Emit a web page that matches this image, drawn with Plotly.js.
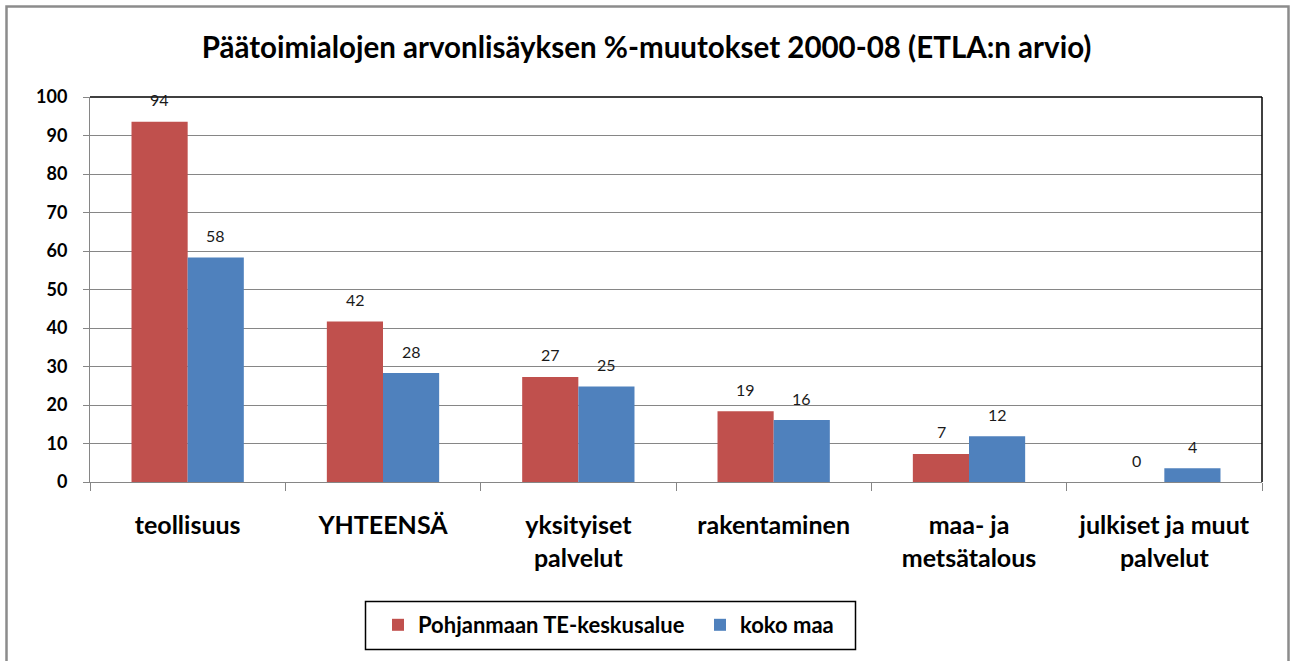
<!DOCTYPE html>
<html><head><meta charset="utf-8">
<script src="https://cdn.plot.ly/plotly-3.0.1.min.js"></script>
<style>html,body{margin:0;padding:0;background:#fff}#c{width:1293px;height:661px}</style>
</head><body><div id="c"></div>
<script>
const categories = ["teollisuus", "YHTEENSÄ", "yksityiset<br>palvelut", "rakentaminen", "maa- ja<br>metsätalous", "julkiset ja muut<br>palvelut"];
const regionValues = [93.6, 41.7, 27.3, 18.4, 7.3, 0];
const regionLabels = ["94", "42", "27", "19", "7", "0"];
const countryValues = [58.3, 28.3, 24.8, 16.1, 11.9, 3.6];
const countryLabels = ["58", "28", "25", "16", "12", "4"];
const seriesNames = ["Pohjanmaan TE-keskusalue", "koko maa"];
const yTicks = [0, 10, 20, 30, 40, 50, 60, 70, 80, 90, 100];

const W = 1293, H = 661, L = 90, R = 1262, T = 97, B = 482;
const pw = R - L, ph = B - T;
const px = x => (x - L) / pw;
const py = y => (B - y) / ph;
const FONT = "Lato, 'Open Sans', sans-serif";

const traces = [
  {type: "bar", name: "<b>" + seriesNames[0] + "</b>", x: categories, y: regionValues,
   marker: {color: "#C0504D"}, hoverinfo: "x+y"},
  {type: "bar", name: "<b>" + seriesNames[1] + "</b>", x: categories, y: countryValues,
   marker: {color: "#4F81BD"}, hoverinfo: "x+y"}
];

const barHalf = 28;
const annotations = [];
categories.forEach((c, i) => {
  annotations.push({x: c, y: regionValues[i], xref: "x", yref: "y", text: regionLabels[i],
    showarrow: false, xanchor: "center", yanchor: "middle", xshift: -barHalf, yshift: 22,
    font: {family: FONT, size: 16, color: "#1a1a1a"}});
  annotations.push({x: c, y: countryValues[i], xref: "x", yref: "y", text: countryLabels[i],
    showarrow: false, xanchor: "center", yanchor: "middle", xshift: barHalf, yshift: 22,
    font: {family: FONT, size: 16, color: "#1a1a1a"}});
});

const layout = {
  width: W, height: H,
  margin: {l: L, r: W - R, t: T, b: H - B, pad: 0},
  paper_bgcolor: "#fff", plot_bgcolor: "#fff",
  font: {family: FONT, color: "#000"},
  title: {text: "<b>Päätoimialojen arvonlisäyksen %-muutokset 2000-08 (ETLA:n arvio)</b>",
          font: {family: FONT, size: 29.5, color: "#000"},
          xref: "container", x: 0.5, xanchor: "center",
          yref: "container", y: 1 - 48 / H, yanchor: "middle"},
  barmode: "group", bargap: 0.425, bargroupgap: 0,
  xaxis: {type: "category", showgrid: false, showline: true, linecolor: "#868686", linewidth: 1,
          ticks: "outside", tickson: "boundaries", ticklen: 8, tickcolor: "#868686",
          tickfont: {family: FONT, size: 25, color: "#000", weight: "bold"},
          ticklabelstandoff: 21, fixedrange: true},
  yaxis: {range: [0, 100], tickvals: yTicks, showgrid: true, gridcolor: "#868686", gridwidth: 1,
          zeroline: false, showline: true, linecolor: "#868686", linewidth: 1,
          ticks: "outside", ticklen: 6, tickcolor: "#868686",
          tickfont: {family: FONT, size: 18, color: "#000", weight: "bold"},
          ticklabelstandoff: 12, fixedrange: true},
  showlegend: true,
  legend: {orientation: "h", xref: "paper", yref: "paper", x: px(378), xanchor: "left",
           y: py(625), yanchor: "middle", borderwidth: 0, bgcolor: "rgba(0,0,0,0)",
           font: {family: FONT, size: 22, color: "#000", weight: "bold"},
           itemwidth: 30, traceorder: "normal", entrywidth: 277, entrywidthmode: "pixels"},
  annotations: annotations,
  shapes: [
    {type: "line", xref: "paper", yref: "paper", x0: 0, x1: 1, y0: 1, y1: 1, line: {color: "#000", width: 1.5}},
    {type: "line", xref: "paper", yref: "paper", x0: 1, x1: 1, y0: 0, y1: 1, line: {color: "#000", width: 1.5}},
    {type: "rect", xref: "paper", yref: "paper", x0: px(365.5), x1: px(855.5), y0: py(649.5), y1: py(601.5),
     line: {color: "#000", width: 1.5}, fillcolor: "rgba(0,0,0,0)", layer: "below"},
    {type: "rect", xref: "paper", yref: "paper", x0: px(6.5), x1: px(1288.5), y0: py(664), y1: py(6.5),
     line: {color: "#8c8c8c", width: 2.5}, fillcolor: "rgba(0,0,0,0)", layer: "below"}
  ]
};
Plotly.newPlot("c", traces, layout, {displayModeBar: false, staticPlot: true});
</script></body></html>
